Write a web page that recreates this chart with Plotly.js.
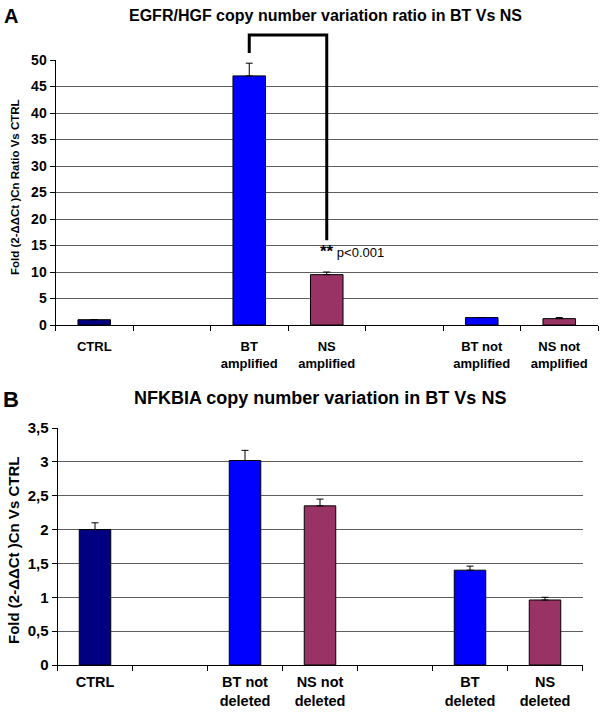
<!DOCTYPE html>
<html>
<head>
<meta charset="utf-8">
<script src="https://cdn.plot.ly/plotly-3.0.1.min.js"></script>
<style>html,body{margin:0;padding:0;background:#fff;}#chart{width:600px;height:712px;}</style>
</head>
<body>
<div id="chart"></div>
<script>
// ---- Data ----
const categoriesA = ['CTRL', ' ', 'BT<br>amplified', 'NS<br>amplified', '  ', 'BT not<br>amplified', 'NS not<br>amplified'];
const valuesA = [1.0, null, 47.0, 9.5, null, 1.4, 1.2];
const errorsA = [null, null, 2.4, 0.5, null, null, 0.2];

const categoriesB = ['CTRL', ' ', 'BT not<br>deleted', 'NS not<br>deleted', '  ', 'BT<br>deleted', 'NS<br>deleted'];
const valuesB = [2.0, null, 3.02, 2.35, null, 1.4, 0.96];
const errorsB = [0.1, null, 0.15, 0.1, null, 0.06, 0.04];

const groupA = ['CTRL', '', 'BT', 'NS', '', 'BT', 'NS'];
const groupB = ['CTRL', '', 'BT', 'NS', '', 'BT', 'NS'];

// significance bracket (data units on chart A)
const bracketFrom = 2, bracketTo = 3;
const bracketTopValue = 54.7, bracketLeftBottom = 51.3, bracketRightBottom = 16.0;
const sigValue = 13.8;

// ---- Styling ----
const colorMap = {CTRL: '#000080', BT: '#0000FF', NS: '#993366', '': 'rgba(0,0,0,0)'};
const FONT = 'Arial, "Liberation Sans", sans-serif';
const W = 600, H = 712;
const domA = {x: [55.5 / W, 598 / W], y: [1 - 325 / H, 1 - 60 / H]};
const domB = {x: [57.5 / W, 582.5 / W], y: [1 - 665 / H, 1 - 428 / H]};
const rangeA = [0, 50], rangeB = [0, 3.5];

function barTrace(cats, vals, errs, groups, xa, ya) {
  return {
    type: 'bar', x: cats, y: vals, xaxis: xa, yaxis: ya,
    width: 0.42,
    marker: {color: groups.map(g => colorMap[g]), line: {color: '#000', width: 1}},
    error_y: {type: 'data', symmetric: false, array: errs, arrayminus: errs.map(() => 0),
              color: '#000', thickness: 1, width: 3.5},
    hoverinfo: 'skip', showlegend: false
  };
}

const traces = [
  barTrace(categoriesA, valuesA, errorsA, groupA, 'x', 'y'),
  barTrace(categoriesB, valuesB, errorsB, groupB, 'x2', 'y2')
];

function xAxis(cats, dom, anchor, size, standoff) {
  return {
    domain: dom.x, anchor: anchor, type: 'category', categoryorder: 'array', categoryarray: cats,
    range: [-0.5, cats.length - 0.5], tickson: 'boundaries', ticks: 'outside', ticklen: 5,
    tickcolor: '#000', showline: true, linecolor: '#000', linewidth: 1, showgrid: false,
    ticklabelstandoff: standoff, tickangle: 0,
    tickfont: {family: FONT, size: size, color: '#000', weight: 'bold'}, fixedrange: true
  };
}
function yAxis(range, dtick, dom, anchor, size) {
  return {
    domain: dom.y, anchor: anchor, range: range, dtick: dtick, ticks: 'outside', ticklen: 5,
    tickcolor: '#000', showline: true, linecolor: '#000', linewidth: 1,
    showgrid: true, gridcolor: '#5e5e5e', gridwidth: 1, zeroline: false,
    tickfont: {family: FONT, size: size, color: '#000', weight: 'bold'}, fixedrange: true
  };
}

// paper coordinates for bracket (from category index and data value)
function px(idx) { return domA.x[0] + (idx + 0.5) / categoriesA.length * (domA.x[1] - domA.x[0]); }
function py(v) { return domA.y[0] + (v - rangeA[0]) / (rangeA[1] - rangeA[0]) * (domA.y[1] - domA.y[0]); }

const bracketPath = 'M ' + px(bracketFrom) + ' ' + py(bracketLeftBottom) +
  ' L ' + px(bracketFrom) + ' ' + py(bracketTopValue) +
  ' L ' + px(bracketTo) + ' ' + py(bracketTopValue) +
  ' L ' + px(bracketTo) + ' ' + py(bracketRightBottom);

const layout = {
  width: W, height: H, margin: {l: 0, r: 0, t: 0, b: 0},
  paper_bgcolor: '#fff', plot_bgcolor: '#fff', separators: ', ',
  bargap: 0.58,
  font: {family: FONT, color: '#000'},
  xaxis: xAxis(categoriesA, domA, 'y', 13, 9),
  yaxis: yAxis(rangeA, 5, domA, 'x', 14),
  xaxis2: xAxis(categoriesB, domB, 'y2', 14.5, 4),
  yaxis2: yAxis(rangeB, 0.5, domB, 'x2', 15),
  shapes: [{type: 'path', xref: 'paper', yref: 'paper', path: bracketPath,
            line: {color: '#000', width: 3}, layer: 'above'}],
  annotations: [
    {text: 'A', xref: 'paper', yref: 'paper', x: 2 / W, y: 1 - 3 / H, xanchor: 'left', yanchor: 'top',
     showarrow: false, font: {family: FONT, size: 20, weight: 'bold'}},
    {text: 'EGFR/HGF copy number variation ratio in BT Vs NS', xref: 'paper', yref: 'paper',
     x: 325 / W, y: 1 - 15 / H, xanchor: 'center', yanchor: 'middle', showarrow: false,
     font: {family: FONT, size: 16, weight: 'bold'}},
    {text: 'Fold (2-ΔΔCt )Cn Ratio Vs CTRL', xref: 'paper', yref: 'paper', textangle: -90,
     x: 15 / W, y: 1 - 187 / H, xanchor: 'center', yanchor: 'middle', showarrow: false,
     font: {family: FONT, size: 11.5, weight: 'bold'}},
    {text: '<span style="font-size:17px;font-weight:bold">**</span> p<0.001', xref: 'x', yref: 'y',
     x: categoriesA[bracketTo], y: sigValue,
     xanchor: 'left', yanchor: 'middle', xshift: -9, showarrow: false,
     font: {family: FONT, size: 13}},
    {text: 'B', xref: 'paper', yref: 'paper', x: 1 / W, y: 1 - 385 / H, xanchor: 'left', yanchor: 'top',
     showarrow: false, font: {family: FONT, size: 22, weight: 'bold'}},
    {text: 'NFKBIA copy number variation in BT Vs NS', xref: 'paper', yref: 'paper',
     x: 320 / W, y: 1 - 398 / H, xanchor: 'center', yanchor: 'middle', showarrow: false,
     font: {family: FONT, size: 18, weight: 'bold'}},
    {text: 'Fold (2-ΔΔCt )Cn Vs CTRL', xref: 'paper', yref: 'paper', textangle: -90,
     x: 13 / W, y: 1 - 551 / H, xanchor: 'center', yanchor: 'middle', showarrow: false,
     font: {family: FONT, size: 15, weight: 'bold'}}
  ]
};

Plotly.newPlot('chart', traces, layout, {displayModeBar: false, staticPlot: true});
</script>
</body>
</html>
